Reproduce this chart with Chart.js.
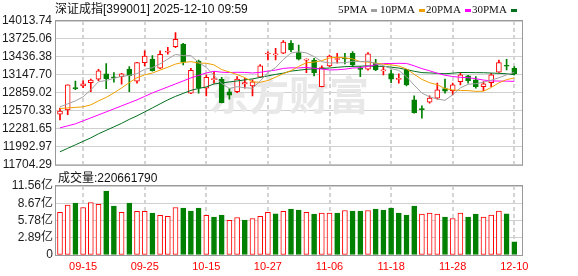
<!DOCTYPE html>
<html>
<head>
<meta charset="utf-8">
<title>深证成指</title>
<script src="https://cdn.jsdelivr.net/npm/chart.js@4.4.1/dist/chart.umd.min.js"></script>
<style>
body { margin: 0; background: #fff; }
#wrap { position: relative; width: 578px; height: 276px; overflow: hidden; font-family: "Liberation Sans", "Noto Sans CJK SC", sans-serif; color: #111; }
#kline { position: absolute; left: 0; top: 0; }
#vol { position: absolute; left: 0; top: 168px; }
.txt { position: absolute; font-size: 12px; line-height: 14px; white-space: nowrap; }
.lg { position: absolute; top: 2px; font-family: "Liberation Serif", serif; font-size: 11px; line-height: 14px; white-space: nowrap; }
.lg i { display: inline-block; width: 6px; height: 3px; margin-left: 4px; vertical-align: middle; }
</style>
</head>
<body>
<div id="wrap">
<canvas id="kline" width="578" height="176"></canvas>
<canvas id="vol" width="578" height="108"></canvas>
<div class="txt" style="left:55px;top:2px">深证成指[399001] 2025-12-10 09:59</div>
<div class="lg" style="left:338px">5PMA<i style="background:#a0a0a0"></i></div>
<div class="lg" style="left:380px">10PMA<i style="background:#f0a000"></i></div>
<div class="lg" style="left:426px">20PMA<i style="background:#ff00ff"></i></div>
<div class="lg" style="left:472px">30PMA<i style="background:#006f1e"></i></div>
<div class="txt" style="left:58px;top:171px">成交量:220661790</div>
</div>
<script>
/* Data */
var dates = ["09-10", "09-11", "09-12", "09-15", "09-16", "09-17", "09-18", "09-19", "09-22", "09-23",
	"09-24", "09-25", "09-26", "09-29", "09-30", "10-09", "10-10", "10-13", "10-14", "10-15",
	"10-16", "10-17", "10-20", "10-21", "10-22", "10-23", "10-24", "10-27", "10-28", "10-29",
	"10-30", "10-31", "11-03", "11-04", "11-05", "11-06", "11-07", "11-10", "11-11", "11-12",
	"11-13", "11-14", "11-17", "11-18", "11-19", "11-20", "11-21", "11-24", "11-25", "11-26",
	"11-27", "11-28", "12-01", "12-02", "12-03", "12-04", "12-05", "12-08", "12-09", "12-10"];
var dateTicks = ["09-15", "09-25", "10-15", "10-27", "11-06", "11-18", "11-28", "12-10"];

var open = [12517, 12586, 12944, 12971, 13024, 13079, 13164, 13111, 13120, 13239,
	13047, 13345, 13404, 13255, 13512, 13602, 13645, 12854, 13372, 12934,
	13072, 13079, 12875, 12880, 13003, 12971, 13111, 13484, 13470, 13496,
	13656, 13505, 13385, 13388, 12960, 13292, 13396, 13416, 13496, 13244,
	13239, 13335, 13212, 13169, 13075, 13228, 12747, 12602, 12710, 12774,
	12928, 12896, 13040, 13132, 13068, 12960, 13024, 13191, 13297, 13255];
var close = [12566, 12987, 12928, 13003, 13063, 13212, 13088, 13100, 13164, 13136,
	13345, 13452, 13217, 13480, 13517, 13720, 13351, 13223, 12934, 13111,
	13080, 12703, 12822, 13079, 13024, 13035, 13292, 13496, 13480, 13677,
	13549, 13399, 13400, 13185, 13265, 13452, 13407, 13404, 13308, 13236,
	13485, 13228, 13223, 13079, 13083, 12987, 12543, 12591, 12774, 12907,
	12886, 12987, 13148, 13056, 12960, 13003, 13148, 13345, 13287, 13164];
var high = [12614, 12990, 13047, 13051, 13080, 13239, 13329, 13185, 13172, 13281,
	13348, 13533, 13457, 13533, 13592, 13826, 13655, 13255, 13388, 13148,
	13200, 13111, 12928, 13120, 13095, 13068, 13313, 13517, 13576, 13698,
	13698, 13629, 13405, 13416, 13292, 13468, 13496, 13496, 13521, 13281,
	13505, 13399, 13281, 13228, 13164, 13239, 12811, 12651, 12811, 13015,
	13079, 13015, 13185, 13140, 13120, 13040, 13174, 13388, 13399, 13281];
var low = [12426, 12511, 12912, 12944, 12880, 13056, 12928, 13031, 12999, 12880,
	13015, 13292, 13208, 13250, 13480, 13585, 13308, 12845, 12854, 12811,
	13015, 12698, 12758, 12864, 12934, 12811, 13108, 13388, 13388, 13490,
	13521, 13388, 13185, 13132, 12955, 13281, 13335, 13324, 13281, 13120,
	13225, 13217, 13148, 13024, 13015, 12971, 12535, 12453, 12694, 12758,
	12854, 12827, 12987, 13015, 12934, 12896, 12960, 13188, 13228, 13148];

var ma5 = [12635, 12683, 12731, 12795, 12909, 13039, 13059, 13093, 13125, 13140,
	13167, 13239, 13263, 13326, 13402, 13477, 13457, 13458, 13349, 13268,
	13140, 13010, 12930, 12959, 12942, 12933, 13050, 13185, 13265, 13396,
	13499, 13520, 13501, 13442, 13360, 13340, 13342, 13343, 13367, 13361,
	13368, 13332, 13296, 13250, 13220, 13120, 12983, 12857, 12796, 12760,
	12740, 12829, 12940, 12997, 13007, 13031, 13063, 13102, 13149, 13189];
var ma10 = [12607, 12618, 12626, 12635, 12667, 12731, 12787, 12859, 12939, 13025,
	13103, 13149, 13178, 13226, 13271, 13322, 13348, 13361, 13338, 13335,
	13309, 13234, 13194, 13154, 13105, 13036, 13030, 13058, 13112, 13169,
	13216, 13285, 13343, 13354, 13378, 13420, 13431, 13422, 13405, 13361,
	13354, 13337, 13319, 13309, 13291, 13244, 13158, 13076, 13023, 12990,
	12930, 12906, 12899, 12896, 12884, 12886, 12946, 13021, 13073, 13098];
var ma20 = [12298, 12330, 12362, 12410, 12458, 12506, 12554, 12602, 12651, 12699,
	12747, 12803, 12859, 12907, 12955, 13003, 13051, 13100, 13140, 13180,
	13206, 13191, 13186, 13190, 13188, 13179, 13189, 13209, 13225, 13252,
	13262, 13260, 13269, 13254, 13241, 13228, 13231, 13240, 13258, 13265,
	13285, 13311, 13331, 13331, 13334, 13332, 13294, 13249, 13214, 13175,
	13142, 13122, 13109, 13103, 13087, 13065, 13052, 13049, 13048, 13044];
var ma30 = [11913, 11969, 12025, 12081, 12137, 12202, 12258, 12314, 12370, 12434,
	12490, 12554, 12618, 12683, 12747, 12803, 12851, 12899, 12931, 12955,
	13003, 13019, 13035, 13051, 13068, 13084, 13108, 13132, 13156, 13176,
	13209, 13223, 13238, 13245, 13251, 13259, 13270, 13280, 13285, 13288,
	13293, 13285, 13286, 13272, 13258, 13233, 13206, 13185, 13180, 13173,
	13167, 13176, 13187, 13186, 13184, 13183, 13178, 13173, 13167, 13150];

// volume in 亿, volUp: 1 = red (up on previous close), 0 = green
var volume = [7.13, 8.35, 8.68, 7.96, 8.80, 8.50, 10.69, 8.18, 7.13, 8.68,
	7.30, 7.30, 7.01, 6.63, 6.46, 7.96, 7.85, 7.35, 7.85, 6.63,
	6.35, 6.68, 5.79, 6.29, 5.85, 6.12, 6.46, 7.13, 6.90, 7.30,
	7.68, 7.52, 7.13, 6.85, 7.01, 7.01, 7.01, 7.46, 7.35, 7.35,
	7.46, 7.68, 7.52, 7.85, 7.01, 6.68, 8.18, 6.85, 7.01, 6.85,
	6.35, 6.12, 7.01, 6.35, 6.85, 6.35, 6.68, 7.35, 6.90, 2.21];
var volUp = [1, 1, 0, 1, 1, 1, 0, 0, 1, 0,
	1, 1, 0, 1, 1, 1, 0, 0, 0, 1,
	0, 0, 1, 1, 0, 1, 1, 1, 0, 1,
	0, 0, 1, 0, 1, 1, 0, 1, 0, 0,
	1, 0, 0, 0, 0, 0, 0, 1, 1, 1,
	0, 1, 1, 0, 0, 1, 1, 1, 0, 0];

var priceTicks = [11704.29, 11992.97, 12281.65, 12570.33, 12859.02, 13147.70, 13436.38, 13725.06, 14013.74];
var volTicks = [0, 2.89, 5.78, 8.67, 11.56];

/* Style */
var RED = "#ff0000";
var GREEN = "#008000";
var GRID = "#d0d0d0";
var DASH = "#d4d4d4";
Chart.defaults.font.family = '"Liberation Sans", "Noto Sans CJK SC", sans-serif';
Chart.defaults.font.size = 12;

function isUp(i) {
	return close[i] >= open[i];
}
function points(arr) {
	return arr.map(function(v, i) {
		return { x: i, y: v };
	});
}
function ranges(a, b) {
	return a.map(function(v, i) {
		return { x: i, y: [v, b[i]] };
	});
}

function xAxis(showLabels) {
	return {
		type: "linear",
		min: -0.52,
		max: 60,
		offset: false,
		afterBuildTicks: function(scale) {
			scale.ticks = dateTicks.map(function(d) {
				return { value: dates.indexOf(d) };
			});
		},
		afterFit: function(scale) {
			scale.height = showLabels ? 21 : 0;
		},
		grid: { display: false, drawTicks: false, offset: false },
		border: { display: false },
		ticks: {
			display: showLabels,
			autoSkip: false,
			maxRotation: 0,
			padding: 5,
			color: RED,
			font: { size: 11 },
			callback: function(v) {
				return dates[v];
			},
		},
	};
}

function yAxis(min, max, tickValues, pad, label) {
	return {
		min: min,
		max: max,
		afterBuildTicks: function(scale) {
			scale.ticks = tickValues.map(function(v) {
				return { value: v };
			});
		},
		afterFit: function(scale) {
			scale.width = 56;
		},
		grid: { color: GRID, drawTicks: false },
		border: { display: false },
		ticks: { padding: pad, autoSkip: false, color: "#1c1c1c", callback: label },
	};
}

// dashed vertical lines at the date ticks, slid behind what is already drawn,
// then the grey frame on top
var frame = {
	id: "frame",
	afterDraw: function(chart) {
		var x = chart.scales.x;
		var a = chart.chartArea;
		var ctx = chart.ctx;
		ctx.save();
		ctx.globalCompositeOperation = "destination-over";
		ctx.strokeStyle = DASH;
		ctx.lineWidth = 2;
		ctx.setLineDash([4, 3]);
		dateTicks.forEach(function(d) {
			var px = Math.round(x.getPixelForValue(dates.indexOf(d)));
			ctx.beginPath();
			ctx.moveTo(px, a.top);
			ctx.lineTo(px, a.bottom);
			ctx.stroke();
		});
		ctx.restore();

		ctx.save();
		ctx.strokeStyle = "#999";
		ctx.lineWidth = 1;
		ctx.strokeRect(a.left - 0.5, a.top - 0.5, a.right - a.left + 1, a.bottom - a.top + 1);
		ctx.restore();
	},
};

var watermark = {
	id: "watermark",
	beforeDatasetsDraw: function(chart) {
		var a = chart.chartArea;
		var ctx = chart.ctx;
		ctx.save();
		ctx.font = 'bold 40px "Noto Sans CJK SC"';
		ctx.fillStyle = "#e8e8e8";
		ctx.textAlign = "center";
		ctx.textBaseline = "middle";
		ctx.fillText("东方财富", (a.left + a.right) / 2, (a.top + a.bottom) / 2 + 2);
		ctx.restore();
	},
};

function maLine(data, color) {
	return {
		type: "line",
		data: points(data),
		borderColor: color,
		borderWidth: 1,
		pointRadius: 0,
		fill: false,
		tension: 0,
		order: -1,
	};
}

/* Charts */
var kline = new Chart(document.getElementById("kline"), {
	type: "bar",
	data: {
		datasets: [
			{
				data: ranges(low, high),
				grouped: false,
				barThickness: 1,
				borderWidth: 0,
				backgroundColor: function(c) {
					return isUp(c.dataIndex) ? RED : GREEN;
				},
				order: 2,
			},
			{
				data: ranges(open, close),
				grouped: false,
				barThickness: 5,
				minBarLength: 1,
				borderWidth: 1,
				borderSkipped: false,
				borderColor: function(c) {
					return isUp(c.dataIndex) ? RED : GREEN;
				},
				backgroundColor: function(c) {
					return isUp(c.dataIndex) ? "#fff" : GREEN;
				},
				order: 1,
			},
			maLine(ma5, "#a0a0a0"),
			maLine(ma10, "#f0a000"),
			maLine(ma20, "#ff00ff"),
			maLine(ma30, "#006f1e"),
		],
	},
	options: {
		responsive: false,
		animation: false,
		events: [],
		layout: { padding: { top: 21, right: 56, bottom: 11, left: 0 } },
		plugins: { legend: { display: false }, tooltip: { enabled: false } },
		scales: {
			x: xAxis(false),
			y: yAxis(11704.29, 14013.74, priceTicks, 4, function(v) {
				return v.toFixed(2);
			}),
		},
	},
	plugins: [watermark, frame],
});

var volChart = new Chart(document.getElementById("vol"), {
	type: "bar",
	data: {
		datasets: [
			{
				data: points(volume),
				barThickness: 5,
				borderWidth: 1,
				borderSkipped: false,
				borderColor: function(c) {
					return volUp[c.dataIndex] ? RED : GREEN;
				},
				backgroundColor: function(c) {
					return volUp[c.dataIndex] ? "#fff" : GREEN;
				},
			},
		],
	},
	options: {
		responsive: false,
		animation: false,
		events: [],
		layout: { padding: { top: 18, right: 56, bottom: 0, left: 0 } },
		plugins: { legend: { display: false }, tooltip: { enabled: false } },
		scales: {
			x: xAxis(true),
			y: yAxis(0, 11.56, volTicks, 3, function(v) {
				return v === 0 ? "0" : v.toFixed(2) + "亿";
			}),
		},
	},
	plugins: [frame],
});
</script>
</body>
</html>
